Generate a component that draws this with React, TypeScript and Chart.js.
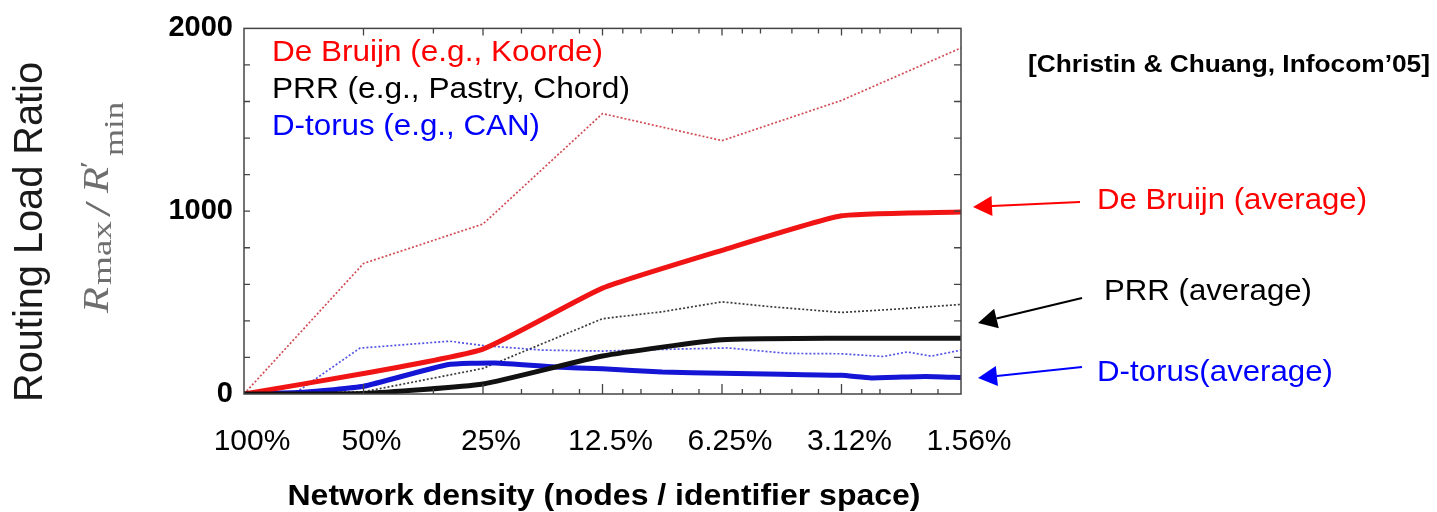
import React, { useEffect, useRef } from "react";
import { Chart, registerables } from "chart.js";

Chart.register(...registerables);

// ---- data ----
const categories = ["100%", "50%", "25%", "12.5%", "6.25%", "3.12%", "1.56%"];
const yMin = 0;
const yMax = 2000;
const yMajorStep = 1000;
const yMinorStep = 200;

// x values are positions along the density axis (0 = 100%, 6 = 1.56%)
const deBruijnMaxX = [0, 1, 2, 3, 4, 5, 6];
const deBruijnMaxY = [0, 714, 930, 1534, 1386, 1606, 1893];
const deBruijnAvgX = [0, 1, 2, 3, 4, 5, 6];
const deBruijnAvgY = [0, 112, 246, 579, 786, 975, 996];
const prrMaxX = [0, 1, 2, 3, 3.5, 4, 4.4, 5, 5.5, 6];
const prrMaxY = [0, 12, 140, 412, 450, 504, 478, 446, 466, 490];
const prrAvgX = [0, 1, 2, 3, 4, 5, 6];
const prrAvgY = [0, 3, 55, 208, 297, 305, 305];
const dTorusMaxX = [0, 0.45, 0.97, 1.72, 2, 2.5, 3, 3.5, 4.05, 4.55, 5, 5.35, 5.55, 5.75, 6];
const dTorusMaxY = [0, 15, 251, 289, 265, 240, 235, 244, 252, 222, 220, 205, 230, 207, 240];
const dTorusAvgX = [0, 0.5, 1, 1.7, 2.1, 2.6, 3, 3.5, 4, 4.5, 5, 5.25, 5.7, 6];
const dTorusAvgY = [0, 10, 42, 160, 170, 148, 138, 120, 114, 108, 102, 88, 96, 90];

// minor tick multipliers within each density interval (log2 spaced)
const minorMultipliers = [
  [],
  [1.5],
  [1.25, 1.5, 1.75],
  [1.125, 1.25, 1.5, 1.75],
  [1.125, 1.25, 1.5, 1.75],
  [1.125, 1.25, 1.5, 1.75],
];

const legendLines = ["De Bruijn (e.g., Koorde)", "PRR (e.g., Pastry, Chord)", "D-torus (e.g., CAN)"];
const annotationLines = ["De Bruijn (average)", "PRR (average)", "D-torus(average)"];
const citation = "[Christin & Chuang, Infocom\u201905]";
const yTitle = "Routing Load Ratio";
const xTitle = "Network density (nodes / identifier space)";

const RED = "#ff0000";
const BLACK = "#000000";
const BLUE = "#0000ff";
const SANS = '"Liberation Sans", Arial, sans-serif';
const SERIF = '"Liberation Serif", "Times New Roman", serif';

const zip = (xs: number[], ys: number[]) => xs.map((x, i) => ({ x, y: ys[i] }));

function fitText(
  ctx: CanvasRenderingContext2D,
  text: string,
  x: number,
  y: number,
  font: string,
  color: string,
  width?: number,
  align: CanvasTextAlign = "left"
) {
  ctx.save();
  ctx.font = font;
  ctx.fillStyle = color;
  ctx.textBaseline = "alphabetic";
  const w = ctx.measureText(text).width;
  const sx = width ? width / w : 1;
  ctx.translate(x, y);
  ctx.scale(sx, 1);
  ctx.textAlign = align;
  ctx.fillText(text, 0, 0);
  ctx.restore();
}

function arrow(
  ctx: CanvasRenderingContext2D,
  x1: number,
  y1: number,
  x2: number,
  y2: number,
  color: string
) {
  const head = 19;
  const half = 10;
  const ang = Math.atan2(y2 - y1, x2 - x1);
  const bx = x2 - head * Math.cos(ang);
  const by = y2 - head * Math.sin(ang);
  ctx.save();
  ctx.strokeStyle = color;
  ctx.fillStyle = color;
  ctx.lineWidth = 2;
  ctx.beginPath();
  ctx.moveTo(x1, y1);
  ctx.lineTo(bx, by);
  ctx.stroke();
  ctx.beginPath();
  ctx.moveTo(x2, y2);
  ctx.lineTo(bx + half * Math.sin(ang), by - half * Math.cos(ang));
  ctx.lineTo(bx - half * Math.sin(ang), by + half * Math.cos(ang));
  ctx.closePath();
  ctx.fill();
  ctx.restore();
}

const decorPlugin = {
  id: "decor",
  afterDraw(chart: any) {
    const ctx: CanvasRenderingContext2D = chart.ctx;
    const { left, right, top, bottom } = chart.chartArea;
    const xs = chart.scales.x;
    const ys = chart.scales.y;

    // frame
    ctx.save();
    ctx.strokeStyle = "#444";
    ctx.lineWidth = 1.5;
    ctx.strokeRect(left, top, right - left, bottom - top);

    // ticks
    ctx.lineWidth = 1.3;
    ctx.beginPath();
    for (let v = yMin + yMinorStep; v < yMax; v += yMinorStep) {
      const py = ys.getPixelForValue(v);
      ctx.moveTo(left, py);
      ctx.lineTo(left + 6, py);
      ctx.moveTo(right, py);
      ctx.lineTo(right - 7, py);
    }
    for (let i = 1; i < categories.length - 1; i++) {
      const px = xs.getPixelForValue(i);
      ctx.moveTo(px, bottom);
      ctx.lineTo(px, bottom - 10);
      ctx.moveTo(px, top);
      ctx.lineTo(px, top + 7);
    }
    minorMultipliers.forEach((ms, i) => {
      ms.forEach((m) => {
        const px = xs.getPixelForValue(i + Math.log2(m));
        ctx.moveTo(px, bottom);
        ctx.lineTo(px, bottom - 5);
        ctx.moveTo(px, top);
        ctx.lineTo(px, top + 5);
      });
    });
    ctx.stroke();
    ctx.restore();

    // in-plot legend text
    const legendColors = [RED, BLACK, BLUE];
    const legendWidths = [331, 358, 268];
    const legendBase = [61, 98, 135];
    legendLines.forEach((t, i) =>
      fitText(ctx, t, left + 28, legendBase[i], `30px ${SANS}`, legendColors[i], legendWidths[i])
    );

    // right annotations
    fitText(ctx, annotationLines[0], 1097, 209, `30px ${SANS}`, RED, 270);
    fitText(ctx, annotationLines[1], 1104, 300, `30px ${SANS}`, BLACK, 208);
    fitText(ctx, annotationLines[2], 1097, 381, `30px ${SANS}`, BLUE, 236);
    arrow(ctx, 1080, 202, 973, 207, RED);
    arrow(ctx, 1082, 298, 978, 323, BLACK);
    arrow(ctx, 1082, 367, 978, 378, BLUE);

    // citation
    fitText(ctx, citation, 1028, 72, `bold 23px ${SANS}`, "#000", 402);

    // x title
    fitText(ctx, xTitle, 604, 505, `bold 29px ${SANS}`, "#000", 633, "center");

    // y title
    ctx.save();
    ctx.translate(42, 232);
    ctx.rotate(-Math.PI / 2);
    fitText(ctx, yTitle, 0, 0, `40px ${SANS}`, "#1a1a1a", 340, "center");
    ctx.restore();

    // math label R_max / R'_min
    ctx.save();
    ctx.translate(108, 313);
    ctx.rotate(-Math.PI / 2);
    const gray = "#6e6e6e";
    fitText(ctx, "R", 0, 0, `italic 36px ${SERIF}`, gray, 26);
    fitText(ctx, "max", 28, 3, `28px ${SERIF}`, gray, 64);
    fitText(ctx, "/", 96, 2, `36px ${SERIF}`, gray, 16);
    fitText(ctx, "R", 120, 0, `italic 36px ${SERIF}`, gray, 26);
    fitText(ctx, "\u2032", 145, -10, `26px ${SERIF}`, gray, 7);
    fitText(ctx, "min", 157, 15, `28px ${SERIF}`, gray, 54);
    ctx.restore();
  },
};

export default function App() {
  const ref = useRef<HTMLCanvasElement | null>(null);

  useEffect(() => {
    if (!ref.current) return;
    const thin = { borderWidth: 1.7, borderDash: [2, 2], pointRadius: 0, tension: 0, fill: false };
    const thick = { borderWidth: 5, pointRadius: 0, tension: 0.15, fill: false, borderCapStyle: "round", borderJoinStyle: "round" };
    const chart = new Chart(ref.current, {
      type: "line",
      data: {
        datasets: [
          { label: "De Bruijn max", data: zip(deBruijnMaxX, deBruijnMaxY), borderColor: "rgba(200,45,55,0.85)", order: 6, ...thin },
          { label: "PRR max", data: zip(prrMaxX, prrMaxY), borderColor: "rgba(25,25,25,0.85)", order: 5, ...thin },
          { label: "D-torus max", data: zip(dTorusMaxX, dTorusMaxY), borderColor: "rgba(40,40,220,0.8)", order: 4, ...thin },
          { label: "D-torus avg", data: zip(dTorusAvgX, dTorusAvgY), borderColor: "#1515d5", order: 3, ...thick },
          { label: "De Bruijn avg", data: zip(deBruijnAvgX, deBruijnAvgY), borderColor: "#f01414", order: 2, ...thick },
          { label: "PRR avg", data: zip(prrAvgX, prrAvgY), borderColor: "#111111", order: 1, ...thick },
        ] as any,
      },
      options: {
        responsive: false,
        maintainAspectRatio: false,
        animation: false,
        layout: { padding: { left: 0, top: 23, right: 476, bottom: 0 } },
        plugins: { legend: { display: false }, tooltip: { enabled: false } },
        scales: {
          x: {
            type: "linear",
            min: 0,
            max: categories.length - 1,
            grid: { display: false, drawTicks: false },
            border: { display: false },
            ticks: {
              stepSize: 1,
              autoSkip: false,
              maxRotation: 0,
              minRotation: 0,
              padding: 30,
              labelOffset: 8,
              color: "#000",
              font: { family: "Liberation Sans", size: 30 },
              callback: (v: any) => categories[Math.round(Number(v))] ?? "",
            },
            afterFit: (s: any) => {
              s.height = 118;
            },
          },
          y: {
            min: yMin,
            max: yMax,
            grid: { display: false, drawTicks: false },
            border: { display: false },
            ticks: {
              stepSize: yMajorStep,
              padding: 11,
              color: "#000",
              font: { family: "Liberation Sans", size: 29, weight: "bold" },
              callback: (v: any) => String(v),
            },
            afterFit: (s: any) => {
              s.width = 244;
            },
          },
        },
      } as any,
      plugins: [decorPlugin],
    });
    return () => chart.destroy();
  }, []);

  return (
    <div style={{ position: "absolute", left: 0, top: 0, width: 1437, height: 512, background: "#fff" }}>
      <canvas ref={ref} width={1437} height={512} style={{ display: "block" }} />
    </div>
  );
}
